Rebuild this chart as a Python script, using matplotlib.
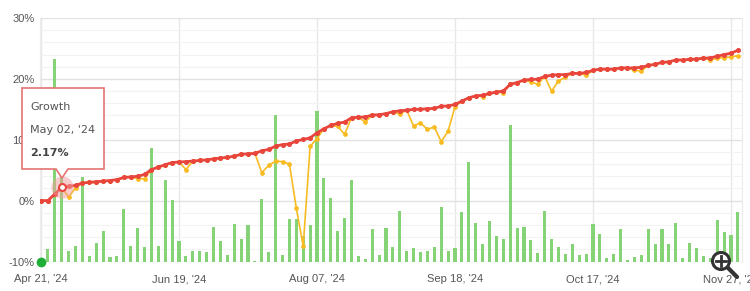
import matplotlib.pyplot as plt
from matplotlib.patches import Polygon, Circle
from matplotlib.lines import Line2D
import numpy as np

# x positions are just point indices, dates only label every 20th point
tick_idx = [0, 20, 40, 60, 80, 100]
tick_labels = ["Apr 21, '24", "Jun 19, '24", "Aug 07, '24", "Sep 18, '24", "Oct 17, '24", "Nov 27, '24"]

# growth (red, %)
growth = [0.0, 0.0, 1.1, 2.17, 2.35, 2.5, 2.9, 3.0, 3.1, 3.2,
          3.3, 3.45, 3.8, 3.9, 4.0, 4.3, 5.1, 5.5, 5.9, 6.25,
          6.35, 6.4, 6.5, 6.6, 6.7, 6.85, 7.0, 7.1, 7.3, 7.6,
          7.7, 7.75, 8.2, 8.4, 8.95, 9.2, 9.3, 9.8, 10.05, 10.3,
          11.15, 11.8, 12.35, 12.7, 12.9, 13.6, 13.7, 13.75, 14.05, 14.1,
          14.3, 14.6, 14.75, 14.85, 15.0, 15.0, 15.1, 15.15, 15.5, 15.55,
          15.8, 16.35, 16.9, 17.2, 17.3, 17.6, 17.85, 18.0, 19.1, 19.4,
          19.8, 19.9, 19.95, 20.4, 20.6, 20.7, 20.7, 20.9, 20.9, 21.05,
          21.4, 21.6, 21.6, 21.6, 21.8, 21.8, 21.8, 21.9, 22.2, 22.4,
          22.7, 22.8, 23.1, 23.1, 23.2, 23.25, 23.4, 23.45, 23.7, 24.0,
          24.2, 24.7]

# equity (yellow, %)
equity = [0.0, 0.0, 1.1, 2.17, 0.55, 2.1, 2.9, 3.0, 3.0, 3.2,
          3.3, 3.45, 3.8, 3.9, 3.6, 3.6, 5.1, 5.5, 5.9, 6.25,
          6.35, 5.1, 6.5, 6.6, 6.7, 6.85, 7.0, 7.1, 7.3, 7.6,
          7.7, 7.75, 4.6, 5.8, 6.5, 6.4, 6.0, -1.2, -7.5, 8.9,
          10.2, 11.8, 12.35, 12.2, 10.9, 13.6, 13.7, 12.9, 14.05, 14.1,
          14.3, 14.6, 14.2, 14.85, 12.25, 12.8, 11.7, 12.1, 9.7, 11.4,
          15.45, 16.35, 16.9, 17.2, 17.1, 17.6, 17.85, 17.7, 19.1, 19.4,
          19.8, 19.5, 19.1, 20.4, 18.0, 19.65, 20.3, 20.9, 20.9, 20.6,
          21.4, 21.6, 21.6, 21.6, 21.8, 21.8, 21.4, 21.3, 22.2, 22.4,
          22.7, 22.8, 23.1, 23.1, 23.2, 23.25, 23.4, 23.1, 23.4, 23.5,
          23.6, 23.8]

# green bars, height above the -10% floor
bars = [0.0, 2.0, 33.2, 21.7, 1.7, 2.6, 13.8, 0.9, 3.1, 5.0,
        0.8, 0.9, 8.6, 2.6, 5.5, 2.3, 18.6, 2.6, 13.4, 10.1,
        3.4, 0.9, 1.8, 1.8, 1.5, 5.6, 3.4, 1.1, 6.2, 3.7,
        6.0, 0.1, 10.3, 1.6, 24.1, 1.1, 7.0, 7.0, 4.2, 6.0,
        24.7, 13.7, 10.5, 5.0, 7.2, 13.4, 0.9, 0.4, 5.3, 1.1,
        5.5, 2.3, 8.3, 1.7, 2.2, 1.5, 1.7, 2.3, 8.9, 1.7,
        2.2, 8.1, 16.3, 6.4, 2.8, 6.7, 4.2, 3.7, 22.4, 5.5,
        5.6, 3.5, 1.4, 8.3, 3.7, 2.4, 1.2, 2.8, 1.0, 1.2,
        6.1, 4.5, 0.5, 1.2, 5.3, 0.25, 0.7, 1.1, 5.3, 2.8,
        5.3, 2.8, 6.3, 0.6, 3.0, 2.2, 0.9, 0.6, 6.8, 4.9,
        4.4, 8.2]

hover_idx = 3

W, H = 750, 291
def px(x, y):
    # pixel (from top-left) -> figure fraction
    return (x / W, 1 - y / H)

fig = plt.figure(figsize=(7.5, 2.91), dpi=100)
ax = fig.add_axes([40 / W, (H - 261.5) / H, 702 / W, (261.5 - 18) / H])

x = np.arange(len(growth))
ax.bar(x, bars, bottom=-10, width=0.45, color='#86d377', zorder=2)
ax.plot(x, equity, color='#f8bb22', lw=1.2, marker='o', ms=2.4, zorder=3)
ax.plot(x, growth, color='#e8453c', lw=2, marker='o', ms=2.6, zorder=4)
ax.plot([0], [-10], 'o', color='#1fae3a', ms=6, zorder=5, clip_on=False)

# hovered point
ax.plot([hover_idx], [growth[hover_idx]], 'o', ms=16, color='#f19a9a', alpha=0.5, zorder=5, mec='none')
ax.plot([hover_idx], [growth[hover_idx]], 'o', ms=5, mfc='white', mec='#e8453c', mew=1.5, zorder=6)

ax.set_xlim(-0.15, 101.6)
ax.set_ylim(-10, 30)
ax.set_yticks(range(-10, 31, 10))
ax.set_yticklabels([f'{v}%' for v in range(-10, 31, 10)])
ax.set_yticks(np.arange(-10, 31, 2), minor=True)
ax.set_xticks(tick_idx)
ax.set_xticklabels(tick_labels)
ax.tick_params(which='both', length=0)
ax.tick_params(axis='x', pad=9, labelsize=8, labelcolor='#555555')
ax.tick_params(axis='y', pad=4, labelsize=8, labelcolor='#555555')
for lab in ax.get_xticklabels() + ax.get_yticklabels():
    lab.set_family('Liberation Sans')

ax.set_axisbelow(True)
ax.grid(axis='y', which='major', color='#e2e2e2', lw=1)
ax.grid(axis='y', which='minor', color='#f2f2f2', lw=0.8)
ax.grid(axis='x', which='major', color='#e8e8e8', lw=1)
for s in ['top', 'bottom']:
    ax.spines[s].set_visible(False)
for s in ['left', 'right']:
    ax.spines[s].set_color('#ececec')

# tooltip
tip = [px(22, 88), px(104, 88), px(104, 169), px(68, 169), px(62, 178),
       px(56, 169), px(22, 169)]
fig.patches.append(Polygon(tip, closed=True, facecolor='white', edgecolor='#e57373',
                           lw=1.2, transform=fig.transFigure, zorder=10))
tx, ty = px(30, 107)
fig.text(tx, ty, 'Growth', fontsize=8, color='#555555', va='center', zorder=11)
tx, ty = px(30, 130)
fig.text(tx, ty, "May 02, '24", fontsize=8, color='#555555', va='center', zorder=11)
tx, ty = px(30, 153)
fig.text(tx, ty, '2.17%', fontsize=8, color='#444444', fontweight='bold', va='center', zorder=11)

# zoom icon in the corner
cx, cy = px(721, 261)
fig.lines.append(Line2D([cx + 0.008, 737 / W], [cy - 0.02, 1 - 277 / H], color='#333333',
                        lw=3, solid_capstyle='round', transform=fig.transFigure, zorder=12))
fig.patches.append(Circle((721, H - 261), 8.5, facecolor='white', edgecolor='#333333',
                          lw=2.2, transform=None, zorder=13))
fig.lines.append(Line2D([716 / W, 726 / W], [cy, cy], color='#333333', lw=2,
                        transform=fig.transFigure, zorder=14))
fig.lines.append(Line2D([cx, cx], [1 - 256 / H, 1 - 266 / H], color='#333333', lw=2,
                        transform=fig.transFigure, zorder=14))

fig.savefig('out.png', dpi=100)
